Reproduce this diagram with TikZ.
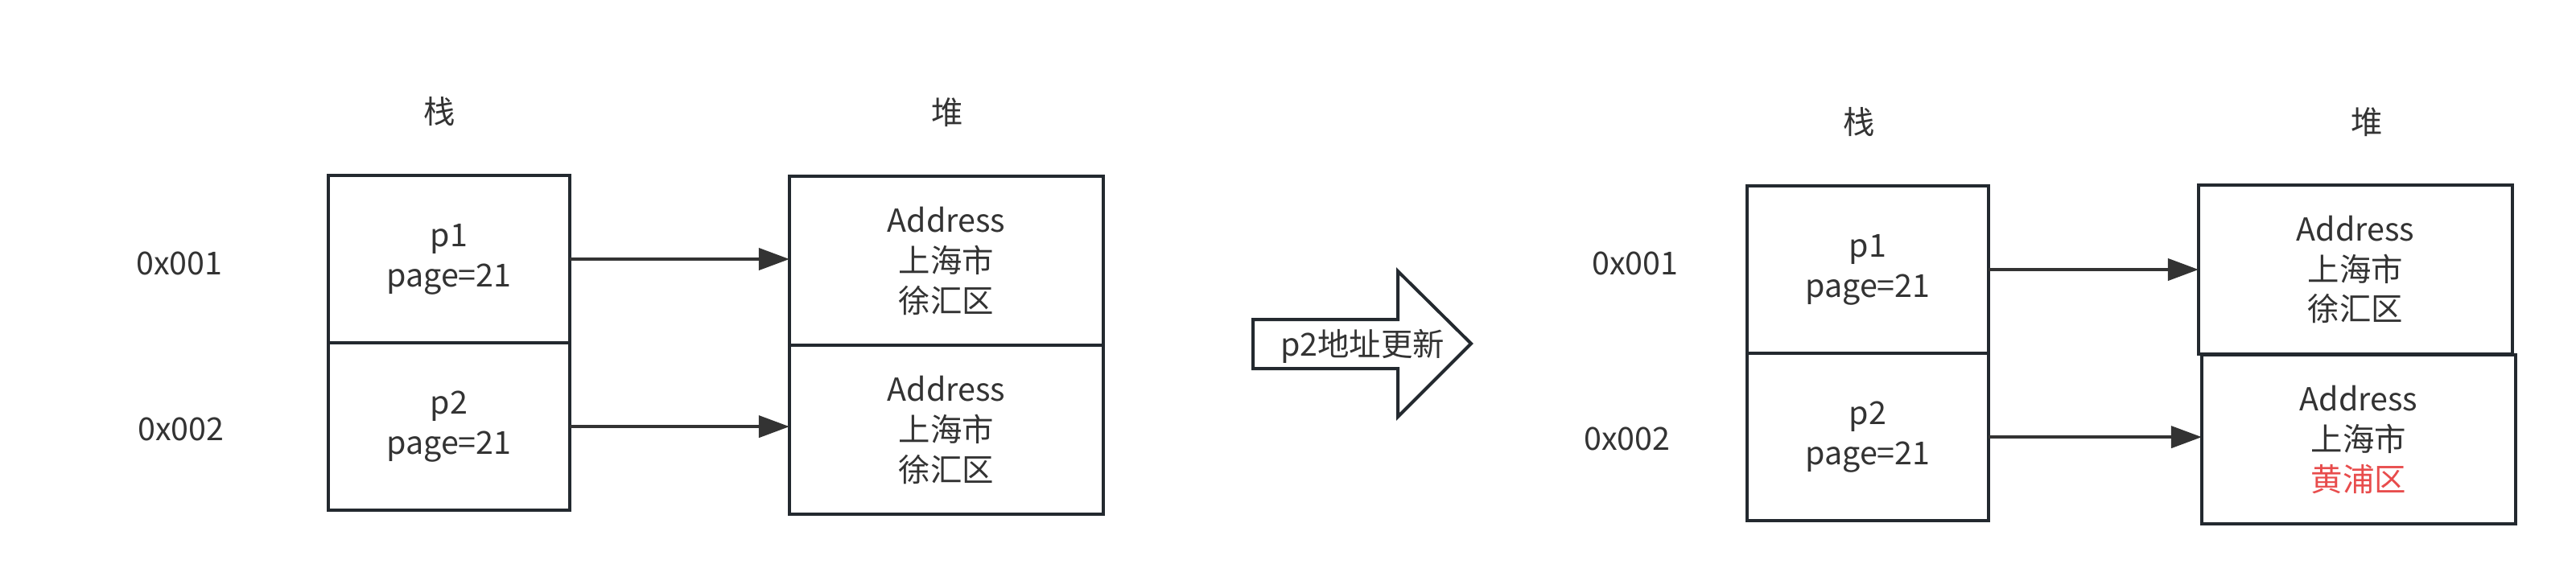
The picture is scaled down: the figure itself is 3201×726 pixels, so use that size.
\documentclass[tikz,border=0pt]{standalone}
\usepackage{fontspec}
\setmainfont{Noto Sans CJK SC}
\usepackage{xcolor}
\usepackage{tikz}
\usetikzlibrary{arrows.meta,positioning}

\definecolor{boxline}{RGB}{35,41,47}
\definecolor{txt}{RGB}{51,51,51}
\definecolor{changed}{RGB}{232,76,76}

\tikzset{
  cell/.style={draw=boxline, line width=0.04cm, minimum width=3cm, minimum height=2.08cm,
    inner sep=0pt, outer sep=0pt, align=center, text=txt,
    font=\fontsize{11.2pt}{14.2pt}\selectfont},
  heapcell/.style={cell, minimum width=3.9cm, minimum height=2.1cm},
  tag/.style={inner sep=0pt, text=txt, font=\fontsize{11.2pt}{14.2pt}\selectfont},
  ptr/.style={draw=txt, line width=0.04cm, -{Triangle[length=0.38cm,width=0.27cm]}}
}

\begin{document}
\begin{tikzpicture}[x=0.01cm, y=-0.01cm]
  \useasboundingbox[fill=white] (0,0) rectangle (3201,726);

  % Before: stack and heap
  \node[tag] (stackA) at (546,139) {栈};
  \node[tag] (heapA) at (1177,140) {堆};
  \node[tag] (addrA1) at (223,327) {0x001};
  \node[tag] (addrA2) at (225,533) {0x002};
  \node[cell] (pA1) at (558,322) {p1\\page=21};
  \node[cell, below=0pt of pA1] (pA2) {p2\\page=21};
  \node[heapcell] (hA1) at (1176,324) {Address\\上海市\\徐汇区};
  \node[heapcell, below=0pt of hA1] (hA2) {Address\\上海市\\徐汇区};
  \draw[ptr] (pA1.east) -- (pA1.east -| hA1.west);
  \draw[ptr] (pA2.east) -- (pA2.east -| hA2.west);

  % Update arrow
  \draw[draw=boxline, line width=0.04cm, fill=white]
    (1557,397) -- (1737,397) -- (1737,337) -- (1828,427)
    -- (1737,518) -- (1737,458) -- (1557,458) -- cycle;
  \node[tag] (update) at (1693,430) {p2地址更新};

  % After: p2 now points to a changed address
  \node[tag] (stackB) at (2310,152) {栈};
  \node[tag] (heapB) at (2941,152) {堆};
  \node[tag] (addrB1) at (2032,327) {0x001};
  \node[tag] (addrB2) at (2022,545) {0x002};
  \node[cell] (pB1) at (2321,335) {p1\\page=21};
  \node[cell, below=0pt of pB1] (pB2) {p2\\page=21};
  \node[heapcell] (hB1) at (2927,335) {Address\\上海市\\徐汇区};
  \node[heapcell] (hB2) at (2931,546) {Address\\上海市\\\textcolor{changed}{黄浦区}};
  \draw[ptr] (pB1.east) -- (pB1.east -| hB1.west);
  \draw[ptr] (pB2.east) -- (pB2.east -| hB2.west);
\end{tikzpicture}
\end{document}
